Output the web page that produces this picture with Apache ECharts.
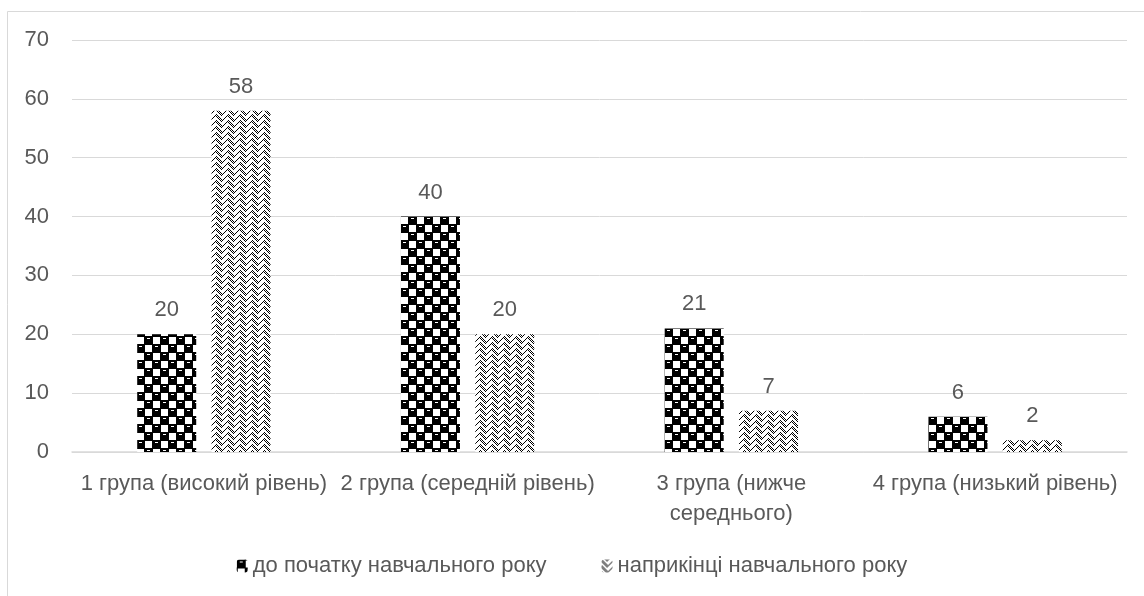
<!DOCTYPE html>
<html>
<head>
<meta charset="utf-8">
<script src="https://cdn.jsdelivr.net/npm/echarts@6/dist/echarts.min.js"></script>
<style>
  html, body { margin: 0; padding: 0; background: #fff; }
  #chart { width: 1144px; height: 596px; }
</style>
</head>
<body>
<div id="chart"></div>
<script>
// Chart data
const categories = [
  '1 група (високий рівень)',
  '2 група (середній рівень)',
  '3 група (нижче\nсереднього)',
  '4 група (низький рівень)'
];
const seriesNames = ['до початку навчального року', 'наприкінці навчального року'];
const startOfYear = [20, 40, 21, 6];
const endOfYear = [58, 20, 7, 2];
const yTicks = [0, 10, 20, 30, 40, 50, 60, 70];

// Checker of black "spheres" with a small highlight
function spherePattern() {
  const c = document.createElement('canvas');
  c.width = 16; c.height = 16;
  const g = c.getContext('2d');
  g.fillStyle = '#fff';
  g.fillRect(0, 0, 16, 16);
  const cells = [[0, 0], [8, 8]];
  g.fillStyle = '#000';
  cells.forEach(([ox, oy]) => {
    // 9x9 cell, wrapping around the tile edges
    for (let dx = 0; dx < 9; dx++) {
      for (let dy = 0; dy < 9; dy++) {
        const corner = (dy === 8 && (dx === 0 || dx === 8));
        if (!corner) g.fillRect((ox + dx) % 16, (oy + dy) % 16, 1, 1);
      }
    }
  });
  g.fillStyle = '#fff';
  cells.forEach(([ox, oy]) => {
    g.fillRect(ox + 3, oy + 2, 3, 1);
  });
  return c;
}

// Dotted zigzag texture
function zigzagPattern() {
  const c = document.createElement('canvas');
  c.width = 12; c.height = 12;
  const g = c.getContext('2d');
  g.fillStyle = '#fff';
  g.fillRect(0, 0, 12, 12);
  g.fillStyle = '#000';
  const v = [0, 1, 2, 3, 4, 5, 5, 4, 3, 2, 1, 0];
  for (let x = 0; x < 12; x++) {
    [0, 6].forEach(off => {
      for (let k = 0; k < 3; k++) {
        const y = (v[x] + off + k) % 12;
        if ((x + y) % 2 === 0) g.fillRect(x, y, 1, 1);
      }
    });
  }
  return c;
}

const textColor = '#595959';
const lineColor = '#d9d9d9';
const fontFamily = '"Liberation Sans", Arial, sans-serif';
const fontSize = 22;

const chart = echarts.init(document.getElementById('chart'), null, { renderer: 'canvas' });
chart.setOption({
  animation: false,
  backgroundColor: '#fff',
  textStyle: { fontFamily: fontFamily, color: textColor },
  graphic: [{
    type: 'rect',
    shape: { x: 7.5, y: 11.5, width: 1300, height: 800 },
    style: { fill: 'none', stroke: lineColor, lineWidth: 1 },
    silent: true,
    z: -1
  }],
  grid: { left: 72, right: 17, top: 40, bottom: 144 },
  legend: {
    top: 550,
    left: 'center',
    itemWidth: 11,
    itemHeight: 13,
    itemGap: 55,
    textStyle: { fontSize: fontSize, color: textColor, fontFamily: fontFamily },
    data: seriesNames
  },
  xAxis: {
    type: 'category',
    data: categories,
    axisLine: { lineStyle: { color: lineColor, width: 1.5 } },
    axisTick: { show: false },
    axisLabel: {
      color: textColor, fontSize: fontSize, margin: 17, lineHeight: 30,
      interval: 0, fontFamily: fontFamily
    }
  },
  yAxis: {
    type: 'value',
    min: yTicks[0],
    max: yTicks[yTicks.length - 1],
    interval: yTicks[1] - yTicks[0],
    axisLine: { show: false },
    axisTick: { show: false },
    splitLine: { lineStyle: { color: lineColor, width: 1 } },
    axisLabel: { color: textColor, fontSize: fontSize, margin: 23, fontFamily: fontFamily }
  },
  series: [
    {
      name: seriesNames[0],
      type: 'bar',
      data: startOfYear,
      barWidth: 59,
      barGap: '26%',
      itemStyle: { color: { image: spherePattern(), repeat: 'repeat' } },
      label: { show: true, position: 'top', distance: 13, color: textColor, fontSize: fontSize, fontFamily: fontFamily }
    },
    {
      name: seriesNames[1],
      type: 'bar',
      data: endOfYear,
      barWidth: 59,
      barGap: '26%',
      itemStyle: { color: { image: zigzagPattern(), repeat: 'repeat' } },
      label: { show: true, position: 'top', distance: 13, color: textColor, fontSize: fontSize, fontFamily: fontFamily }
    }
  ]
});
</script>
</body>
</html>
